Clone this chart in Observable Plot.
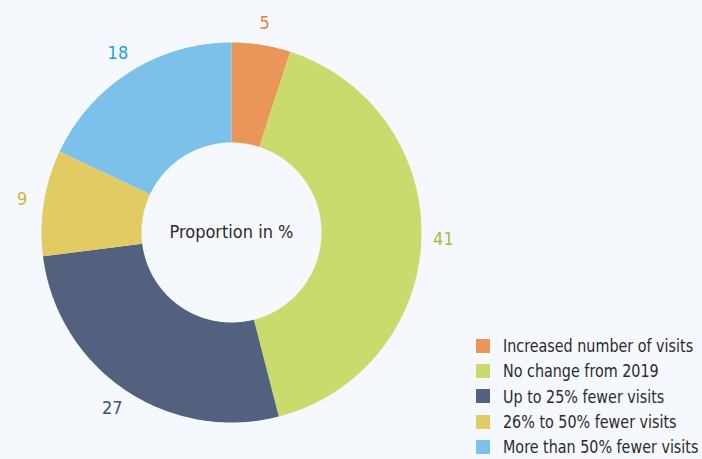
<!DOCTYPE html>
<html><head><meta charset="utf-8">
<script src="https://cdn.jsdelivr.net/npm/d3@7"></script>
<script src="https://cdn.jsdelivr.net/npm/@observablehq/plot@0.6"></script>
<style>
html,body{margin:0;padding:0;background:#f5f8fd;}
#wrap{position:relative;width:702px;height:459px;font-family:"DejaVu Sans Condensed","DejaVu Sans",sans-serif;}
#legend{position:absolute;left:476px;top:333px;font-size:18px;color:#2b2b2b;}
.item{display:flex;align-items:center;height:25.3px;white-space:nowrap;}
.sw{width:14px;height:14px;margin-right:13px;flex:none;}
.tx{display:inline-block;transform:scaleX(0.885);transform-origin:left center;}
</style></head>
<body><div id="wrap"></div>
<script>
const categories = ["Increased number of visits","No change from 2019","Up to 25% fewer visits","26% to 50% fewer visits","More than 50% fewer visits"];
const values = [5, 41, 27, 9, 18];
const colors = ["#e99658","#cbda6c","#52617e","#e2cb62","#7bc1ea"];
const labelColors = ["#e27f3e","#a6bb3c","#42506f","#d2b63a","#1ba2da"];
const centerLabel = "Proportion in %";

const W = 702, H = 459, cx = 231, cy = 232, R = 190;
const inner = 90 / R, labelR = 212 / R;
const total = d3.sum(values);
const pts = [], labels = [];
let acc = 0;
values.forEach((v, i) => {
  const a0 = acc / total * 2 * Math.PI, a1 = (acc + v) / total * 2 * Math.PI;
  acc += v;
  const n = Math.max(4, Math.ceil((a1 - a0) / (Math.PI / 180)));
  for (let k = 0; k <= n; k++) { const a = a0 + (a1 - a0) * k / n; pts.push({cat: categories[i], x: Math.sin(a), y: Math.cos(a)}); }
  for (let k = n; k >= 0; k--) { const a = a0 + (a1 - a0) * k / n; pts.push({cat: categories[i], x: inner * Math.sin(a), y: inner * Math.cos(a)}); }
  const am = (a0 + a1) / 2;
  labels.push({x: labelR * Math.sin(am), y: labelR * Math.cos(am), text: String(v), i});
});

const chart = Plot.plot({
  width: W, height: H, margin: 0,
  style: {background: "#f5f8fd", fontFamily: "'DejaVu Sans Condensed','DejaVu Sans',sans-serif"},
  x: {domain: [-cx / R, (W - cx) / R], range: [0, W], axis: null},
  y: {domain: [-(H - cy) / R, cy / R], range: [H, 0], axis: null},
  color: {domain: categories, range: colors},
  marks: [
    Plot.line(pts, {x: "x", y: "y", z: "cat", fill: "cat", stroke: null, curve: "linear-closed"}),
    ...labels.map(l => Plot.text([l], {x: "x", y: "y", text: "text", fill: labelColors[l.i], fontSize: 18, fontWeight: 500})),
    Plot.text([centerLabel], {x: () => 0, y: () => 0, text: d => d, fill: "#2b2b2b", fontSize: 18})
  ]
});
const wrap = document.getElementById("wrap");
wrap.appendChild(chart);
const lg = document.createElement("div"); lg.id = "legend";
categories.forEach((c, i) => {
  const it = document.createElement("div"); it.className = "item";
  it.innerHTML = `<span class="sw" style="background:${colors[i]}"></span><span class="tx">${c}</span>`;
  lg.appendChild(it);
});
wrap.appendChild(lg);
</script></body></html>
